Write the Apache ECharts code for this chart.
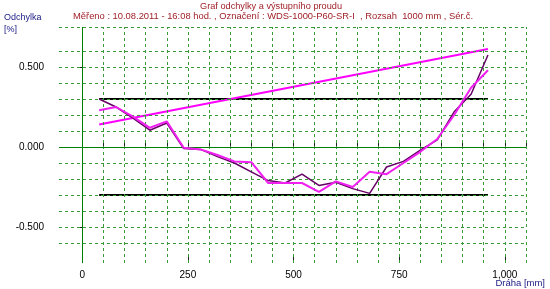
<!DOCTYPE html>
<html><head><meta charset="utf-8">
<script src="https://cdn.jsdelivr.net/npm/echarts@6/dist/echarts.min.js"></script>
<style>html,body{margin:0;padding:0;background:#fff}#c{width:550px;height:289px}</style>
</head><body><div id="c"></div>
<script>
// Data (mm positions and deviations in %)
var positions = [40,80,120,160,200,240,280,320,360,400,440,480,520,560,600,640,680,720,760,800,840,880,920,960];
var purpleVals = [0.30,0.25,0.18,0.105,0.15,-0.01,-0.015,-0.06,-0.10,-0.155,-0.21,-0.225,-0.17,-0.24,-0.22,-0.26,-0.29,-0.125,-0.09,-0.02,0.045,0.22,0.33,0.575];
var magentaVals = [0.23,0.25,0.19,0.12,0.16,-0.005,-0.015,-0.05,-0.09,-0.095,-0.225,-0.225,-0.225,-0.28,-0.215,-0.25,-0.155,-0.17,-0.10,-0.03,0.05,0.20,0.37,0.48];
var outputX = [40,960];
var outputY = [0.14,0.6125];
var limitX = [40,960];
var upperLimit = [0.3,0.3];
var lowerLimit = [-0.3,-0.3];
var xTickLabels = [0,250,500,750,1000];
var yTickLabels = [-0.5,0,0.5];
var xGrid = [50,100,150,200,250,300,350,400,450,500,550,600,650,700,750,800,850,900,950,1000,1050];
var yGrid = [-0.6,-0.5,-0.4,-0.3,-0.2,-0.1,0.1,0.2,0.3,0.4,0.5,0.6,0.75];
var xMinorTicks = xGrid.concat([0]);

function pairs(xs, ys){ return xs.map(function(x,i){return [x, ys[i]];}); }

var FONT = 'Liberation Sans, Arial, sans-serif';
var gridColor = '#3a9a3a';
var chart = echarts.init(document.getElementById('c'), null, {renderer:'canvas'});
var option = {
  animation:false,
  backgroundColor:'#ffffff',
  grid:{left:59, right:24, top:27, bottom:26, outerBoundsMode:'none', containLabel:false},
  graphic:[
    {type:'text', x:271, y:2, style:{text:'Graf odchylky a výstupního proudu', fill:'#a0222a', font:'9.2px '+FONT, align:'center'}},
    {type:'text', x:273, y:12, style:{text:'Měřeno : 10.08.2011 - 16:08 hod. , Označení : WDS-1000-P60-SR-I  , Rozsah  1000 mm , Sér.č.', fill:'#a0222a', font:'9.4px '+FONT, align:'center'}},
    {type:'text', x:4, y:13, style:{text:'Odchylka', fill:'#202088', font:'9px '+FONT}},
    {type:'text', x:4, y:25, style:{text:'[%]', fill:'#202088', font:'9px '+FONT}},
    {type:'text', x:545, y:278, style:{text:'Dráha [mm]', fill:'#202088', font:'9.5px '+FONT, align:'right'}}
  ],
  xAxis:[
    {type:'value', min:-55, max:1050,
     axisLine:{show:false}, splitLine:{show:false},
     axisTick:{show:true, inside:true, length:4, customValues:xMinorTicks, lineStyle:{color:'#222'}},
     axisLabel:{show:true, customValues:xTickLabels, color:'#000', fontFamily:FONT, fontSize:10, margin:7}
    },
    {type:'value', min:-55, max:1050, position:'bottom',
     axisLine:{show:false}, splitLine:{show:false},
     axisTick:{show:true, inside:true, length:7, customValues:xTickLabels, lineStyle:{color:'#222'}},
     axisLabel:{show:false}
    }
  ],
  yAxis:{type:'value', min:-0.725, max:0.75,
     axisLine:{show:false}, splitLine:{show:false},
     axisTick:{show:true, length:4, customValues:yTickLabels, lineStyle:{color:'#222'}},
     axisLabel:{customValues:yTickLabels, color:'#000', fontFamily:FONT, fontSize:10, margin:15,
       formatter:function(v){return v.toFixed(3);}}
  },
  series:[
    {type:'line', data:[], silent:true, z:1,
     markLine:{silent:true, symbol:'none', label:{show:false}, animation:false,
       lineStyle:{color:gridColor, type:[3,3], width:1},
       data: xGrid.map(function(v){return {xAxis:v};}).concat(yGrid.map(function(v){return {yAxis:v};}))}
    },
    {type:'line', data:[], silent:true, z:2,
     markLine:{silent:true, symbol:'none', label:{show:false}, animation:false,
       lineStyle:{color:'#008000', type:'solid', width:1},
       data:[{xAxis:0},{yAxis:0}]}
    },
    {name:'upper', type:'line', data:pairs(limitX, upperLimit), showSymbol:false, symbol:'none', z:3, lineStyle:{color:'#000', width:2}},
    {name:'lower', type:'line', data:pairs(limitX, lowerLimit), showSymbol:false, symbol:'none', z:3, lineStyle:{color:'#000', width:2}},
    {name:'output', type:'line', data:pairs(outputX, outputY), showSymbol:false, symbol:'none', z:4, lineStyle:{color:'#ff00ff', width:2}},
    {name:'dev1', type:'line', data:pairs(positions, purpleVals), showSymbol:false, symbol:'none', z:5, lineStyle:{color:'#660066', width:1.5}},
    {name:'dev2', type:'line', data:pairs(positions, magentaVals), showSymbol:false, symbol:'none', z:6, lineStyle:{color:'#f020f0', width:2}}
  ]
};
chart.setOption(option);
</script></body></html>
